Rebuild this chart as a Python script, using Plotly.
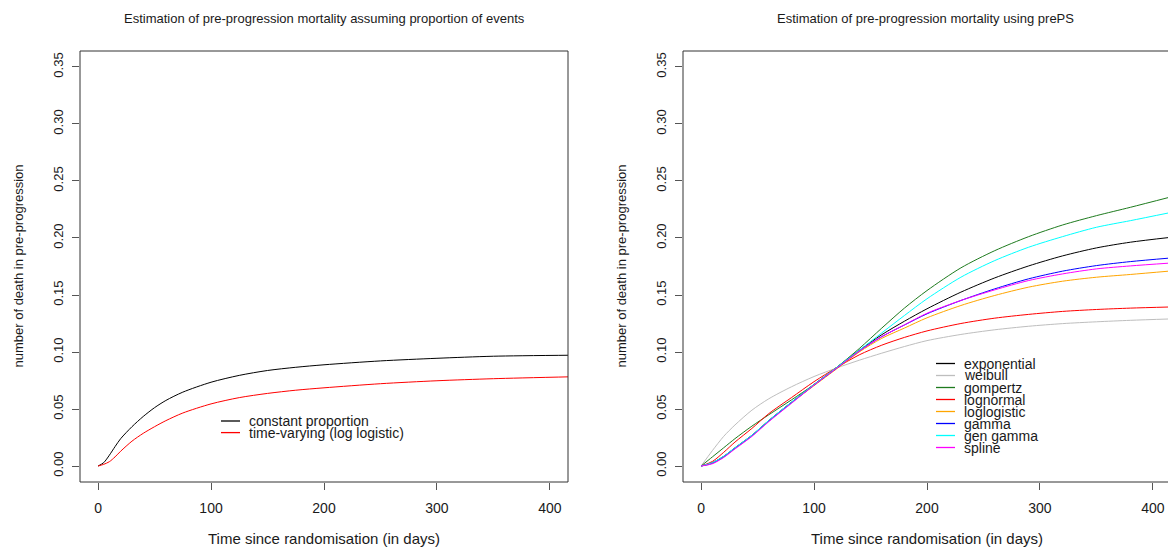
import plotly.graph_objects as go

W, H = 1168, 549

# ---------------- data ----------------
# Left panel
days_left = [0, 5, 10, 15, 20, 30, 40, 50, 60, 75, 100, 125, 150, 175, 200, 250, 300, 350, 420]
constant_proportion = [0, 0.003, 0.0095, 0.017, 0.0240, 0.0345, 0.0435, 0.0512, 0.0575, 0.0648, 0.0735,
                       0.0795, 0.0838, 0.0866, 0.0888, 0.0922, 0.0945, 0.0963, 0.0972]
time_varying = [0, 0.0015, 0.0038, 0.008, 0.0130, 0.0218, 0.0287, 0.0345, 0.0398, 0.0465, 0.0545,
                0.0600, 0.0637, 0.0665, 0.0686, 0.0722, 0.0748, 0.0766, 0.0783]

# Right panel
days_right = [0, 10, 20, 30, 45, 60, 80, 100, 120, 140, 160, 180, 200, 230, 260, 290, 320, 350, 380, 415]
exponential = [0, 0.003, 0.0085, 0.016, 0.027, 0.040, 0.056, 0.0715, 0.0865, 0.1015, 0.1152, 0.127,
               0.1379, 0.1525, 0.1650, 0.1755, 0.1843, 0.1913, 0.1963, 0.2005]
weibull = [0, 0.0135, 0.026, 0.036, 0.049, 0.059, 0.0695, 0.0785, 0.0860, 0.0928, 0.0990, 0.1048,
           0.1100, 0.1154, 0.1195, 0.1226, 0.1249, 0.1265, 0.1278, 0.129]
gompertz = [0, 0.008, 0.016, 0.024, 0.035, 0.045, 0.058, 0.0715, 0.0865, 0.1030, 0.1210, 0.1385,
            0.1539, 0.1738, 0.1889, 0.2012, 0.2114, 0.2196, 0.2269, 0.2358]
lognormal = [0, 0.004, 0.012, 0.021, 0.033, 0.046, 0.060, 0.0740, 0.0863, 0.0975, 0.1060, 0.1128,
             0.1185, 0.1250, 0.1297, 0.1330, 0.1356, 0.1373, 0.1385, 0.1395]
loglogistic = [0, 0.0025, 0.008, 0.0155, 0.0265, 0.0395, 0.0555, 0.0705, 0.0852, 0.1000, 0.1120, 0.121,
               0.130, 0.1408, 0.1496, 0.1569, 0.1621, 0.1656, 0.168, 0.171]
gamma = [0, 0.0025, 0.008, 0.0155, 0.0265, 0.0395, 0.0555, 0.0710, 0.0858, 0.1008, 0.1135, 0.1237,
         0.1335, 0.1452, 0.1554, 0.1642, 0.1709, 0.1758, 0.1793, 0.1824]
gen_gamma = [0, 0.003, 0.0085, 0.016, 0.027, 0.040, 0.056, 0.0715, 0.0865, 0.1015, 0.1168, 0.132,
             0.1467, 0.1656, 0.1802, 0.1919, 0.2012, 0.2094, 0.2152, 0.2222]
spline = [0, 0.002, 0.0075, 0.015, 0.026, 0.039, 0.055, 0.0710, 0.0858, 0.1008, 0.1135, 0.1238,
          0.134, 0.1452, 0.1545, 0.1627, 0.1685, 0.1729, 0.1755, 0.178]

left_names = ["constant proportion", "time-varying (log logistic)"]
left_colors = ["#000000", "#FF0000"]
right_names = ["exponential", "weibull", "gompertz", "lognormal", "loglogistic", "gamma", "gen gamma", "spline"]
right_colors = ["#000000", "#BEBEBE", "#1E7B1E", "#FF0000", "#FFA500", "#0000FF", "#00FFFF", "#FF00FF"]
right_series = [exponential, weibull, gompertz, lognormal, loglogistic, gamma, gen_gamma, spline]

y_ticks = [0, 0.05, 0.10, 0.15, 0.20, 0.25, 0.30, 0.35]
x_ticks = [0, 100, 200, 300, 400]

# ---------------- layout geometry (pixels) ----------------
L_LEFT, L_RIGHT = 80, 568
R_LEFT, R_RIGHT = 683, 1171
P_TOP, P_BOTTOM = 51, 482
FONT = "Liberation Sans, Arial, sans-serif"
TXT = "#1a1a1a"


def fx(px):
    return px / W


def fy(py):
    return 1 - py / H


xr_left = [-16, 416]
px_per_day = (L_RIGHT - L_LEFT) / (xr_left[1] - xr_left[0])
xr_right = [-16, -16 + (W - R_LEFT) / px_per_day]
yr = [-0.014, 0.364]

fig = go.Figure()

for name, col, ys in zip(left_names, left_colors, [constant_proportion, time_varying]):
    fig.add_trace(go.Scatter(x=days_left, y=ys, mode="lines", name=name,
                             line=dict(color=col, width=1, shape="spline", smoothing=0.8),
                             xaxis="x", yaxis="y", showlegend=False))

for name, col, ys in zip(right_names, right_colors, right_series):
    fig.add_trace(go.Scatter(x=days_right, y=ys, mode="lines", name=name,
                             line=dict(color=col, width=1, shape="spline", smoothing=0.8),
                             xaxis="x2", yaxis="y2", showlegend=False))

axis_common = dict(showgrid=False, zeroline=False, showline=False, ticks="outside", ticklen=7,
                   tickwidth=1, tickcolor="#555555", color=TXT)

xcommon = dict(axis_common, tickvals=x_ticks, tickfont=dict(family=FONT, size=14, color=TXT),
               ticklabelstandoff=6)
ycommon = dict(axis_common, tickvals=y_ticks, tickformat=".2f", tickangle=-90,
               tickfont=dict(family=FONT, size=13, color=TXT), range=yr,
               domain=[fy(P_BOTTOM), fy(P_TOP)], ticklabelstandoff=4)

fig.update_layout(
    width=W, height=H, autosize=False,
    margin=dict(l=0, r=0, t=0, b=0),
    paper_bgcolor="white", plot_bgcolor="white",
    xaxis=dict(xcommon, domain=[fx(L_LEFT), fx(L_RIGHT)], range=xr_left, anchor="y"),
    yaxis=dict(ycommon, anchor="x"),
    xaxis2=dict(xcommon, domain=[fx(R_LEFT), 1.0], range=xr_right, anchor="y2"),
    yaxis2=dict(ycommon, anchor="x2"),
    showlegend=False,
)

shapes = []
annotations = []
for left, right in [(L_LEFT, L_RIGHT), (R_LEFT, R_RIGHT)]:
    shapes.append(dict(type="rect", xref="paper", yref="paper", x0=fx(left), x1=fx(right),
                       y0=fy(P_BOTTOM), y1=fy(P_TOP), line=dict(color="#333333", width=1)))

titles = [("Estimation of pre-progression mortality assuming proportion of events", (L_LEFT + L_RIGHT) / 2),
          ("Estimation of pre-progression mortality using prePS", (R_LEFT + R_RIGHT) / 2 - 2)]
for text, cx in titles:
    annotations.append(dict(text=text, x=fx(cx), y=fy(19), xref="paper", yref="paper",
                            xanchor="center", yanchor="middle", showarrow=False,
                            font=dict(family=FONT, size=13, color=TXT)))

for cx in [(L_LEFT + L_RIGHT) / 2, (R_LEFT + R_RIGHT) / 2]:
    annotations.append(dict(text="Time since randomisation (in days)", x=fx(cx), y=fy(538),
                            xref="paper", yref="paper", xanchor="center", yanchor="middle",
                            showarrow=False, font=dict(family=FONT, size=15, color=TXT)))

for lx in [18, 621]:
    annotations.append(dict(text="number of death in pre-progression", x=fx(lx), y=fy((P_TOP + P_BOTTOM) / 2),
                            xref="paper", yref="paper", xanchor="center", yanchor="middle",
                            textangle=-90, showarrow=False, font=dict(family=FONT, size=13, color=TXT)))


def add_legend(names, colors, x_line0, x_text, y0, step):
    for i, (n, c) in enumerate(zip(names, colors)):
        yy = y0 + i * step
        shapes.append(dict(type="line", xref="paper", yref="paper", x0=fx(x_line0), x1=fx(x_line0 + 19),
                           y0=fy(yy), y1=fy(yy), line=dict(color=c, width=1.3)))
        annotations.append(dict(text=n, x=fx(x_text), y=fy(yy), xref="paper", yref="paper",
                                xanchor="left", yanchor="middle", showarrow=False,
                                font=dict(family=FONT, size=14, color=TXT)))


add_legend(left_names, left_colors, 221, 247, 421, 11.6)
add_legend(right_names, right_colors, 936, 962, 363.5, 12)

fig.update_layout(shapes=shapes, annotations=annotations)
fig.write_html("out.html")
